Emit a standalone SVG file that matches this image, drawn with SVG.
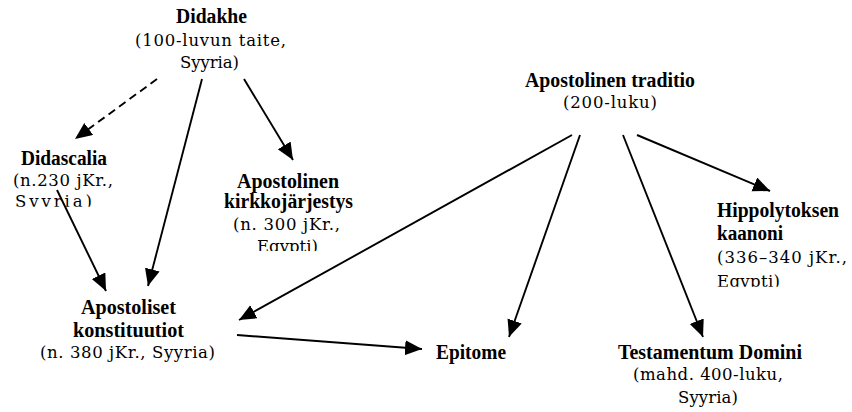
<svg xmlns="http://www.w3.org/2000/svg" width="852" height="412" viewBox="0 0 852 412">
<style>
.t{font-family:"Liberation Serif","Times New Roman",serif;font-weight:bold;font-size:20px;fill:#000}
.s{font-family:"DejaVu Serif","Liberation Serif",serif;font-size:16.5px;fill:#000}
.c line{stroke:#000;stroke-width:1.9;fill:none;marker-end:url(#ah)}
.d{stroke-dasharray:8 5}
</style>
<defs>
<marker id="ah" markerUnits="userSpaceOnUse" markerWidth="18" markerHeight="16" refX="17" refY="7.5" orient="auto" viewBox="0 0 18 16">
<path d="M0,0 L17,7.5 L0,15 z" fill="#000"/>
</marker>
<clipPath id="cl1"><rect x="0" y="190" width="130" height="16.8"/></clipPath>
<clipPath id="cl2"><rect x="220" y="235" width="140" height="16"/></clipPath>
<clipPath id="cl3"><rect x="700" y="270" width="152" height="16.8"/></clipPath>
</defs>
<g class="c" id="connectors">
<line class="d" x1="157" y1="79" x2="75" y2="139"/>
<line x1="202" y1="79" x2="148" y2="286"/>
<line x1="244" y1="79" x2="293" y2="160"/>
<line x1="57" y1="190" x2="106" y2="291"/>
<line x1="572" y1="135" x2="239" y2="320"/>
<line x1="580" y1="135" x2="509" y2="337"/>
<line x1="623" y1="135" x2="703" y2="337"/>
<line x1="637" y1="135" x2="770" y2="191"/>
<line x1="237" y1="335" x2="422" y2="349"/>
</g>
<g id="didakhe">
<text class="t" x="176" y="23" textLength="71" lengthAdjust="spacingAndGlyphs">Didakhe</text>
<text class="s" x="135" y="46" textLength="151" lengthAdjust="spacing">(100-luvun taite,</text>
<text class="s" x="180" y="68" textLength="59" lengthAdjust="spacing">Syyria)</text>
</g>
<g id="didascalia">
<text class="t" x="21" y="165" textLength="86" lengthAdjust="spacingAndGlyphs">Didascalia</text>
<text class="s" x="13" y="186" textLength="100" lengthAdjust="spacing">(n.230 jKr.,</text>
<text class="s" x="15" y="207" textLength="77" lengthAdjust="spacing" clip-path="url(#cl1)">Syyria)</text>
</g>
<g id="kirkkojarjestys">
<text class="t" x="237" y="188" textLength="102" lengthAdjust="spacingAndGlyphs">Apostolinen</text>
<text class="t" x="224" y="208" textLength="129" lengthAdjust="spacingAndGlyphs">kirkkojärjestys</text>
<text class="s" x="233" y="230" textLength="107" lengthAdjust="spacing">(n. 300 jKr.,</text>
<text class="s" x="257" y="252" textLength="61" lengthAdjust="spacing" clip-path="url(#cl2)">Egypti)</text>
</g>
<g id="konstituutiot">
<text class="t" x="81" y="314" textLength="95" lengthAdjust="spacingAndGlyphs">Apostoliset</text>
<text class="t" x="73" y="337" textLength="111" lengthAdjust="spacingAndGlyphs">konstituutiot</text>
<text class="s" x="40" y="358" textLength="175" lengthAdjust="spacing">(n. 380 jKr., Syyria)</text>
</g>
<g id="epitome">
<text class="t" x="436" y="359" textLength="70" lengthAdjust="spacingAndGlyphs">Epitome</text>
</g>
<g id="testamentum">
<text class="t" x="618" y="359" textLength="184" lengthAdjust="spacingAndGlyphs">Testamentum Domini</text>
<text class="s" x="633" y="380" textLength="150" lengthAdjust="spacing">(mahd. 400-luku,</text>
<text class="s" x="678" y="403" textLength="60" lengthAdjust="spacing">Syyria)</text>
</g>
<g id="traditio">
<text class="t" x="525" y="87" textLength="170" lengthAdjust="spacingAndGlyphs">Apostolinen traditio</text>
<text class="s" x="563" y="108" textLength="94" lengthAdjust="spacing">(200-luku)</text>
</g>
<g id="hippolytos">
<text class="t" x="717" y="217" textLength="122" lengthAdjust="spacingAndGlyphs">Hippolytoksen</text>
<text class="t" x="717" y="240" textLength="66" lengthAdjust="spacingAndGlyphs">kaanoni</text>
<text class="s" x="717" y="263" textLength="130" lengthAdjust="spacing">(336–340 jKr.,</text>
<text class="s" x="717" y="287" textLength="63" lengthAdjust="spacing" clip-path="url(#cl3)">Egypti)</text>
</g>
</svg>
